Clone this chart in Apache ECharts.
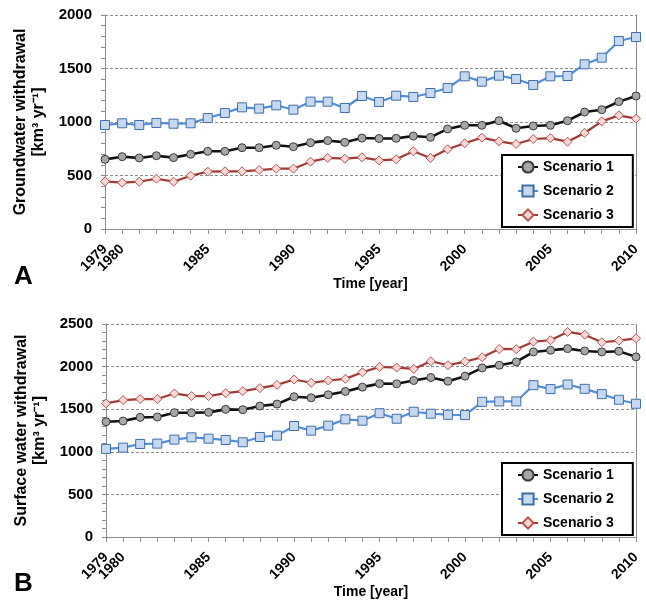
<!DOCTYPE html>
<html>
<head>
<meta charset="utf-8">
<script src="https://cdn.jsdelivr.net/npm/echarts@6/dist/echarts.min.js"></script>
<style>
html,body{margin:0;padding:0;background:#fff;}
#chart{width:646px;height:604px;}
</style>
</head>
<body>
<div id="chart"></div>
<script>
const years = ['1979','1980','1981','1982','1983','1984','1985','1986','1987','1988','1989','1990','1991','1992','1993','1994','1995','1996','1997','1998','1999','2000','2001','2002','2003','2004','2005','2006','2007','2008','2009','2010'];
const labeledYears = ['1979','1980','1985','1990','1995','2000','2005','2010'];
const seriesNames = ['Scenario 1','Scenario 2','Scenario 3'];

// Panel A: groundwater withdrawal [km3/yr]
const gwScenario1 = [651,676,664,685,667,698,726,726,760,760,782,769,807,826,810,850,846,847,869,857,935,969,969,1012,941,963,969,1012,1093,1115,1190,1243];
const gwScenario2 = [972,988,972,991,984,988,1037,1084,1137,1125,1156,1115,1190,1190,1131,1243,1187,1246,1234,1271,1318,1427,1377,1433,1402,1346,1427,1430,1539,1601,1757,1794];
const gwScenario3 = [445,433,442,470,442,498,536,539,539,551,564,564,629,664,657,670,641,651,726,664,745,801,854,819,794,841,850,816,897,1006,1062,1031];

// Panel B: surface water withdrawal [km3/yr]
const swScenario1 = [1353,1361,1404,1408,1459,1459,1463,1498,1494,1537,1560,1646,1634,1669,1708,1759,1800,1798,1837,1872,1829,1888,1985,2016,2055,2172,2192,2211,2184,2172,2180,2114];
const swScenario2 = [1034,1049,1092,1096,1143,1170,1154,1139,1112,1174,1190,1303,1248,1307,1381,1365,1453,1388,1470,1447,1435,1431,1587,1591,1591,1782,1736,1790,1739,1677,1611,1564];
const swScenario3 = [1568,1607,1619,1619,1685,1654,1654,1689,1712,1747,1786,1849,1810,1837,1856,1934,1997,1989,1973,2063,2016,2059,2110,2207,2204,2293,2309,2407,2375,2286,2305,2332];

const FONT = 'Liberation Sans, Arial, sans-serif';
const styles = [
  {line:'#111111', width:2.6, symbol:'circle', size:8, fill:'#a6a6a6', border:'#3a3a3a'},
  {line:'#4f8fd8', width:2.2, symbol:'rect', size:9, fill:'#c6d9f1', border:'#3e6ea6'},
  {line:'#a23b38', width:2.2, symbol:'diamond', size:9, fill:'#f4d9d8', border:'#c0504d'}
];

function makeSeries(name, data, st, idx) {
  return {
    name: name, type: 'line', data: data,
    xAxisIndex: idx, yAxisIndex: idx * 2,
    symbol: st.symbol, symbolSize: st.size, showSymbol: true,
    lineStyle: {color: st.line, width: st.width},
    itemStyle: {color: st.fill, borderColor: st.border, borderWidth: 1},
    color: st.line,
    animation: false, z: 3
  };
}

function xAxisCfg(gi) {
  return {
    type: 'category', gridIndex: gi, data: years, boundaryGap: false,
    axisLine: {lineStyle: {color: '#8c8c8c', width: 1}},
    axisTick: {show: true, interval: 0, length: 5, lineStyle: {color: '#8c8c8c'}},
    axisLabel: {
      interval: 0, hideOverlap: false,
      formatter: function (v) { return labeledYears.indexOf(v) >= 0 ? v : ''; },
      rotate: 45, margin: 18, color: '#000', fontWeight: 'bold', fontSize: 14, fontFamily: FONT
    },
    splitLine: {show: false},
    name: 'Time [year]', nameLocation: 'middle', nameGap: 48,
    nameTextStyle: {color: '#000', fontWeight: 'bold', fontSize: 14, fontFamily: FONT}
  };
}

function yAxisCfg(gi, max, name) {
  return {
    type: 'value', gridIndex: gi, min: 0, max: max, interval: 500,
    axisLine: {show: true, lineStyle: {color: '#8c8c8c', width: 1}},
    axisTick: {show: true, length: 4, lineStyle: {color: '#8c8c8c'}},
    minorTick: {show: true, splitNumber: 5, length: 4, lineStyle: {color: '#8c8c8c'}},
    axisLabel: {color: '#000', fontWeight: 'bold', fontSize: 15, fontFamily: FONT, margin: 13,
      formatter: function (v) { return String(v); }},
    splitLine: {show: true, lineStyle: {color: '#8c8c8c', type: [3, 2], width: 1}},
    name: name, nameLocation: 'middle', nameGap: 37, nameRotate: 90,
    nameTextStyle: {color: '#000', fontWeight: 'bold', fontSize: 16, lineHeight: 18, fontFamily: FONT, align: 'center'}
  };
}

function rightAxisCfg(gi) {
  return {
    type: 'value', gridIndex: gi, position: 'right', min: 0, max: 1,
    axisLine: {show: true, lineStyle: {color: '#8c8c8c', width: 1}},
    axisTick: {show: false}, axisLabel: {show: false}, splitLine: {show: false}
  };
}

function legendCfg(top) {
  return {
    data: seriesNames, orient: 'vertical', left: 502, top: top,
    padding: [5, 19, 5, 15], itemGap: 10, itemWidth: 20, itemHeight: 14,
    borderColor: '#000', borderWidth: 2, backgroundColor: '#fff',
    textStyle: {color: '#000', fontWeight: 'bold', fontSize: 14, fontFamily: FONT},
    selectedMode: false
  };
}

const chart = echarts.init(document.getElementById('chart'), null, {renderer: 'canvas'});
chart.setOption({
  animation: false,
  backgroundColor: '#fff',
  grid: [
    {left: 105, right: 10, top: 15, height: 214},
    {left: 106, right: 10, top: 324, height: 213}
  ],
  xAxis: [xAxisCfg(0), xAxisCfg(1)],
  yAxis: [
    yAxisCfg(0, 2000, 'Groundwater withdrawal\n[km³ yr⁻¹]'),
    rightAxisCfg(0),
    yAxisCfg(1, 2500, 'Surface water withdrawal\n[km³ yr⁻¹]'),
    rightAxisCfg(1)
  ],
  legend: [legendCfg(155), legendCfg(463)],
  series: [
    makeSeries(seriesNames[0], gwScenario1, styles[0], 0),
    makeSeries(seriesNames[1], gwScenario2, styles[1], 0),
    makeSeries(seriesNames[2], gwScenario3, styles[2], 0),
    makeSeries(seriesNames[0], swScenario1, styles[0], 1),
    makeSeries(seriesNames[1], swScenario2, styles[1], 1),
    makeSeries(seriesNames[2], swScenario3, styles[2], 1)
  ],
  graphic: [
    {type: 'text', left: 14, top: 264, style: {text: 'A', font: 'bold 26px ' + FONT, fill: '#000'}},
    {type: 'text', left: 14, top: 571, style: {text: 'B', font: 'bold 26px ' + FONT, fill: '#000'}}
  ]
});
</script>
</body>
</html>
